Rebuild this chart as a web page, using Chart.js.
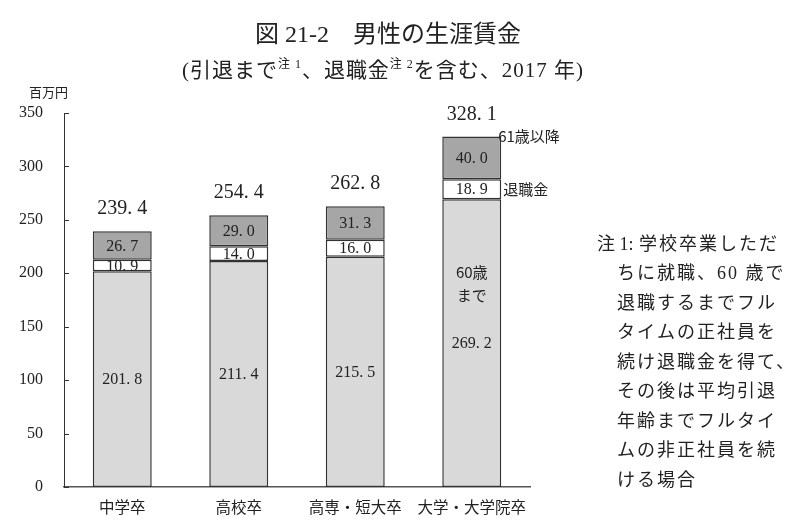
<!DOCTYPE html>
<html>
<head>
<meta charset="utf-8">
<script src="https://cdn.jsdelivr.net/npm/chart.js@4/dist/chart.umd.min.js"></script>
<style>
  html, body { margin: 0; padding: 0; background: #fff; }
  #wrap { width: 800px; height: 525px; }
</style>
</head>
<body>
<div id="wrap"><canvas id="lifetimeWage" width="800" height="525"></canvas></div>
<script>
// 学歴別・男性の生涯賃金（百万円）
const categories = ['中学卒', '高校卒', '高専・短大卒', '大学・大学院卒'];
const until60 = [201.8, 211.4, 215.5, 269.2];   // 60歳まで
const retirement = [10.9, 14.0, 16.0, 18.9];    // 退職金
const after61 = [26.7, 29.0, 31.3, 40.0];       // 61歳以降
const yTicks = [0, 50, 100, 150, 200, 250, 300, 350];

const noteHead = '注 1:';
const noteLines = [
    '学校卒業しただ',
    'ちに就職、60 歳で',
    '退職するまでフル',
    'タイムの正社員を',
    '続け退職金を得て、',
    'その後は平均引退',
    '年齢までフルタイ',
    'ムの非正社員を続',
    'ける場合'
];

const serif = "'Liberation Serif', 'Noto Sans CJK JP', serif";
const sans = "'Noto Sans CJK JP', sans-serif";
const fmt = v => v.toFixed(1).replace('.', '. ');

// 積み上げ棒の数値・注記を描くプラグイン
const annotatePlugin = {
    id: 'annotate',
    afterDraw(chart) {
        const ctx = chart.ctx;
        const yScale = chart.scales.y;
        const area = chart.chartArea;
        ctx.save();
        ctx.fillStyle = '#222';
        ctx.textBaseline = 'middle';

        // タイトル
        ctx.textAlign = 'center';
        ctx.font = '24px ' + serif;
        ctx.fillText('図 21-2　男性の生涯賃金', 388, 36);

        // サブタイトル（上付き注記つき）
        const parts = [
            ['(引退まで', 21, 0], ['注 1', 12, -6], ['、退職金', 21, 0],
            ['注 2', 12, -6], ['を含む、2017 年)', 21, 0]
        ];
        ctx.letterSpacing = '1px';
        let total = 0;
        parts.forEach(p => { ctx.font = p[1] + 'px ' + serif; total += ctx.measureText(p[0]).width; });
        let x = 383 - total / 2;
        ctx.textAlign = 'left';
        parts.forEach(p => {
            ctx.font = p[1] + 'px ' + serif;
            ctx.fillText(p[0], x, 71 + p[2]);
            x += ctx.measureText(p[0]).width;
        });
        ctx.letterSpacing = '0px';

        // 単位
        ctx.font = '13px ' + sans;
        ctx.fillText('百万円', 29, 92);

        // y軸の内向き目盛り
        ctx.strokeStyle = '#333';
        ctx.lineWidth = 1;
        yTicks.forEach(t => {
            const py = Math.round(yScale.getPixelForValue(t)) + 0.5;
            ctx.beginPath();
            ctx.moveTo(area.left, py);
            ctx.lineTo(area.left + 5, py);
            ctx.stroke();
        });

        // 各区分の値
        const segMeta = [0, 1, 2].map(i => chart.getDatasetMeta(i));
        ctx.textAlign = 'center';
        ctx.font = '16px ' + serif;
        segMeta.forEach((meta, di) => {
            meta.data.forEach((bar, i) => {
                const v = chart.data.datasets[di].data[i];
                const cy = (bar.y + bar.base) / 2 + 1;
                ctx.fillText(fmt(v), bar.x, cy);
            });
        });

        // 合計
        ctx.font = '20px ' + serif;
        segMeta[2].data.forEach((bar, i) => {
            const sum = until60[i] + retirement[i] + after61[i];
            ctx.fillText(fmt(sum), bar.x, bar.y - 22);
        });

        // 大学・大学院卒の凡例代わりの注記
        const last = categories.length - 1;
        const b0 = segMeta[0].data[last];
        const b1 = segMeta[1].data[last];
        const b2 = segMeta[2].data[last];
        const right = b0.x + b0.width / 2;
        ctx.font = '15px ' + sans;
        ctx.fillText('60歳', b0.x, 272);
        ctx.fillText('まで', b0.x, 295);
        ctx.textAlign = 'left';
        ctx.fillText('61歳以降', right - 3, b2.y);
        ctx.fillText('退職金', right + 2, (b1.y + b1.base) / 2);

        // 注1
        ctx.font = '18px ' + serif;
        ctx.fillText(noteHead, 597, 245);
        ctx.letterSpacing = '2px';
        noteLines.forEach((line, i) => {
            ctx.fillText(line, i === 0 ? 639 : 617, 245 + i * 29.5);
        });
        ctx.restore();
    }
};

new Chart(document.getElementById('lifetimeWage'), {
    type: 'bar',
    data: {
        labels: categories,
        datasets: [
            { label: '60歳まで', data: until60, backgroundColor: '#d9d9d9' },
            { label: '退職金', data: retirement, backgroundColor: '#ffffff' },
            { label: '61歳以降', data: after61, backgroundColor: '#a6a6a6' }
        ].map(d => Object.assign(d, {
            borderColor: '#333',
            borderWidth: 1.5,
            borderSkipped: false,
            categoryPercentage: 1,
            barPercentage: 0.506
        }))
    },
    options: {
        responsive: false,
        animation: false,
        events: [],
        layout: { padding: { top: 113, right: 270, bottom: 0, left: 0 } },
        plugins: { legend: { display: false }, tooltip: { enabled: false } },
        scales: {
            x: {
                stacked: true,
                grid: { display: false },
                border: { display: true, color: '#555', width: 1.5 },
                ticks: { color: '#222', font: { family: sans, size: 15.5 }, padding: 3, maxRotation: 0, autoSkip: false },
                afterFit(scale) { scale.height = 38; }
            },
            y: {
                stacked: true,
                min: 0,
                max: 350,
                afterBuildTicks(scale) { scale.ticks = yTicks.map(v => ({ value: v })); },
                grid: { display: false },
                border: { display: true, color: '#333', width: 1 },
                ticks: { color: '#222', font: { family: serif, size: 16 }, padding: 13 },
                afterFit(scale) { scale.width = 64; }
            }
        }
    },
    plugins: [annotatePlugin]
});
</script>
</body>
</html>
